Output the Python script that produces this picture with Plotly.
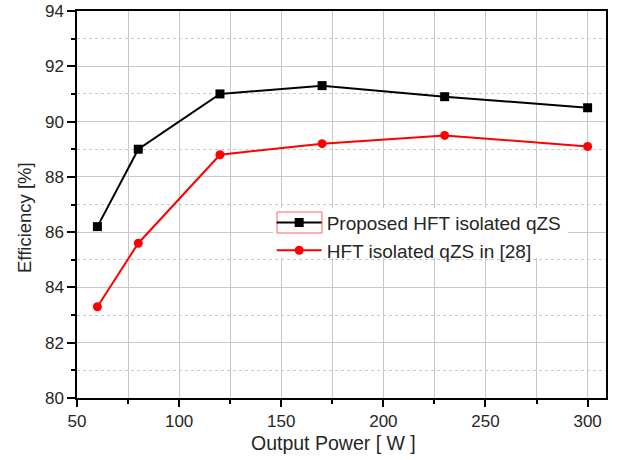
import plotly.graph_objects as go

power = [60, 80, 120, 170, 230, 300]
eff_proposed = [86.2, 89.0, 91.0, 91.3, 90.9, 90.5]
eff_ref28 = [83.3, 85.6, 88.8, 89.2, 89.5, 89.1]
name_proposed = "Proposed HFT isolated qZS"
name_ref28 = "HFT isolated qZS in [28]"
x_title = "Output Power [ W ]"
y_title = "Efficiency [%]"

W, H = 618, 460
L, R, T, B = 77, 12, 11, 62

fig = go.Figure()
fig.add_trace(go.Scatter(x=power, y=eff_proposed, mode="lines+markers", name=name_proposed,
                         line=dict(color="black", width=2),
                         marker=dict(symbol="square", size=9, color="black")))
fig.add_trace(go.Scatter(x=power, y=eff_ref28, mode="lines+markers", name=name_ref28,
                         line=dict(color="#ff0000", width=2),
                         marker=dict(symbol="circle", size=9, color="#ff0000")))

font = "Liberation Sans, Arial, sans-serif"
fig.update_layout(
    width=W, height=H,
    margin=dict(l=L, r=R, t=T, b=B, autoexpand=False),
    paper_bgcolor="white", plot_bgcolor="white",
    font=dict(family=font, size=17, color="#262626"),
    showlegend=True,
    legend=dict(x=0.368, y=0.502, xanchor="left", yanchor="top",
                bgcolor="rgba(0,0,0,0)", borderwidth=0, itemwidth=45,
                font=dict(size=19, color="#262626")),
)
fig.update_xaxes(range=[50, 309], dtick=50, tick0=0, ticks="outside", ticklen=7, tickwidth=1.5,
                 tickcolor="black", showline=True, linecolor="black", linewidth=1.5, mirror=True,
                 showgrid=True, gridcolor="#c8c8c8", gridwidth=1, zeroline=False, automargin=False,
                 minor=dict(dtick=25, tick0=0, ticks="outside", ticklen=4, tickcolor="black",
                            showgrid=True, gridcolor="#c8c8c8", gridwidth=1),
                 tickfont=dict(size=17))
fig.update_yaxes(range=[80, 94], dtick=2, tick0=0, ticks="outside", ticklen=8, tickwidth=1.5,
                 tickcolor="black", showline=True, linecolor="black", linewidth=1.5, mirror=True,
                 showgrid=True, gridcolor="#c8c8c8", gridwidth=1, zeroline=False, automargin=False,
                 minor=dict(dtick=1, tick0=0, ticks="outside", ticklen=4, tickcolor="black",
                            showgrid=True, gridcolor="#c8c8c8", gridwidth=1, griddash="dot"),
                 tickfont=dict(size=17))

pw = W - L - R
ph = H - T - B
def px2x(px):
    return (px - L) / pw
def px2y(py):
    return (H - B - py) / ph

# axis titles
fig.add_annotation(text=x_title, xref="paper", yref="paper", x=px2x(333), y=px2y(443),
                   xanchor="center", yanchor="middle", showarrow=False,
                   font=dict(size=19.5, color="#262626"))
fig.add_annotation(text=y_title, xref="paper", yref="paper", x=px2x(24), y=px2y(218),
                   xanchor="center", yanchor="middle", showarrow=False, textangle=-90,
                   font=dict(size=18.5, color="#262626"))

# white legend background (covers gridlines) and red box around first legend symbol
fig.add_shape(type="rect", xref="paper", yref="paper", layer="above",
              x0=px2x(273), x1=px2x(568), y0=px2y(258), y1=px2y(208),
              line=dict(width=0), fillcolor="white")
fig.add_shape(type="rect", xref="paper", yref="paper", layer="above",
              x0=px2x(277), x1=px2x(322), y0=px2y(233), y1=px2y(212),
              line=dict(color="#ff6060", width=1), fillcolor="rgba(0,0,0,0)")

fig.write_html("out.html")
